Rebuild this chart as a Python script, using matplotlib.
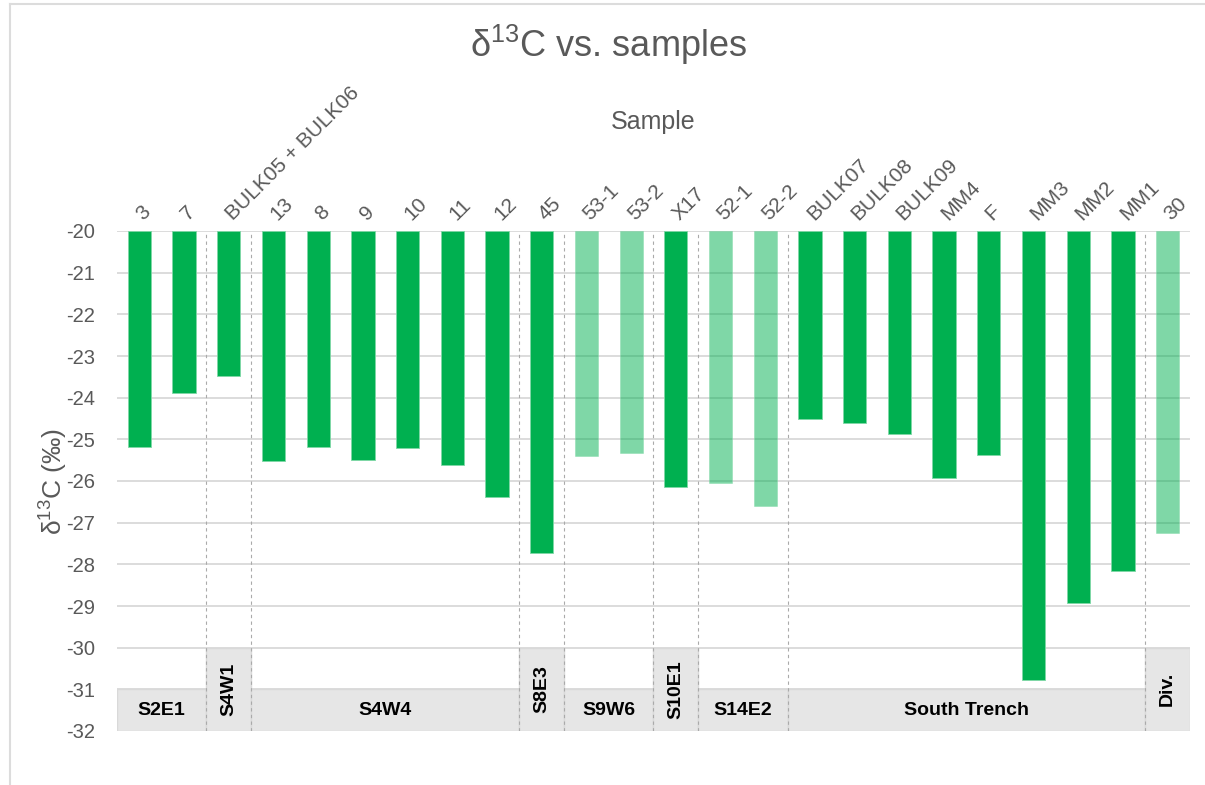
import numpy as np
from matplotlib import pyplot as plt
from matplotlib.lines import Line2D
from matplotlib.patches import Rectangle

samples = ['3', '7', 'BULK05 + BULK06', '13', '8', '9', '10', '11', '12', '45',
           '53-1', '53-2', 'X17', '52-1', '52-2', 'BULK07', 'BULK08', 'BULK09',
           'MM4', 'F', 'MM3', 'MM2', 'MM1', '30']
d13c = [-25.18, -23.9, -23.48, -25.52, -25.18, -25.49, -25.2, -25.62, -26.38, -27.73,
        -25.41, -25.32, -26.15, -26.06, -26.59, -24.5, -24.6, -24.88,
        -25.93, -25.38, -30.78, -28.92, -28.16, -27.25]
faded = [False, False, False, False, False, False, False, False, False, False,
         True, True, False, True, True, False, False, False,
         False, False, False, False, False, True]

# groups: name, first index, last index
groups = [('S2E1', 0, 1), ('S4W1', 2, 2), ('S4W4', 3, 8), ('S8E3', 9, 9),
          ('S9W6', 10, 11), ('S10E1', 12, 12), ('S14E2', 13, 14),
          ('South Trench', 15, 22), ('Div.', 23, 23)]

green = '#00B050'
grey_txt = '#595959'
base = -20

plt.rcParams['font.family'] = ['Liberation Sans', 'DejaVu Sans']
plt.rcParams['mathtext.fontset'] = 'custom'
plt.rcParams['mathtext.rm'] = 'Liberation Sans'
plt.rcParams['axes.unicode_minus'] = False

fig = plt.figure(figsize=(12.05, 7.85), dpi=100)
ax = fig.add_axes([117 / 1205, 54 / 785, 1073 / 1205, 500 / 785])

x = np.arange(len(samples))
for i in x:
    a = 0.5 if faded[i] else 1.0
    ax.bar(i, d13c[i] - base, bottom=base, width=0.52, color=green, alpha=a,
           edgecolor='#7fd8a6', linewidth=0.6, zorder=3)

ax.set_xlim(-0.5, len(samples) - 0.5)
ax.set_ylim(-32, -20)
ax.set_yticks(np.arange(-32, -19, 1))
ax.yaxis.grid(True, color='#d9d9d9', linewidth=1.3, zorder=0)
ax.set_axisbelow(True)
for s in ax.spines.values():
    s.set_visible(False)

ax.xaxis.tick_top()
ax.set_xticks(x)
ax.set_xticklabels(samples, rotation=45, ha='left', va='center',
                   rotation_mode='anchor', fontsize=15, color=grey_txt)
ax.tick_params(axis='x', length=0, pad=10)
ax.tick_params(axis='y', length=0, pad=16, labelsize=14.5, labelcolor=grey_txt)

# group boxes and separators
for name, i0, i1 in groups:
    x0 = i0 - 0.5
    w = i1 - i0 + 1
    if w == 1:
        top = -30
        rot = 90
        yc = -31
    else:
        top = -31
        rot = 0
        yc = -31.5
    ax.add_patch(Rectangle((x0, -32), w, top + 32, facecolor='#e6e6e6',
                           edgecolor='#d9d9d9', linewidth=1, zorder=2))
    ax.text(x0 + w / 2, yc, name, rotation=rot, ha='center', va='center',
            fontsize=14, fontweight='bold', color='black', zorder=5)

for name, i0, i1 in groups[1:]:
    ax.plot([i0 - 0.5, i0 - 0.5], [-32, -20], color='#aaaaaa', linewidth=0.8,
            linestyle=(0, (3, 3)), zorder=4)

ax.set_ylabel(r'δ$^{13}$C (‰)', fontsize=19, color=grey_txt, labelpad=-2)

fig.text(0.505, 1 - 45 / 785, r'δ$^{13}$C vs. samples', ha='center', va='center',
         fontsize=26, color=grey_txt)
fig.text(653 / 1205, 1 - 122 / 785, 'Sample', ha='center', va='center',
         fontsize=18, color=grey_txt)

# frame lines of the chart panel
fig.add_artist(Line2D([10 / 1205, 10 / 1205], [0, 1 - 4 / 785],
                      transform=fig.transFigure, color='#dcdcdc', linewidth=1.5))
fig.add_artist(Line2D([10 / 1205, 1], [1 - 4 / 785, 1 - 4 / 785],
                      transform=fig.transFigure, color='#dcdcdc', linewidth=1.5))

fig.savefig('out.png', dpi=100)
